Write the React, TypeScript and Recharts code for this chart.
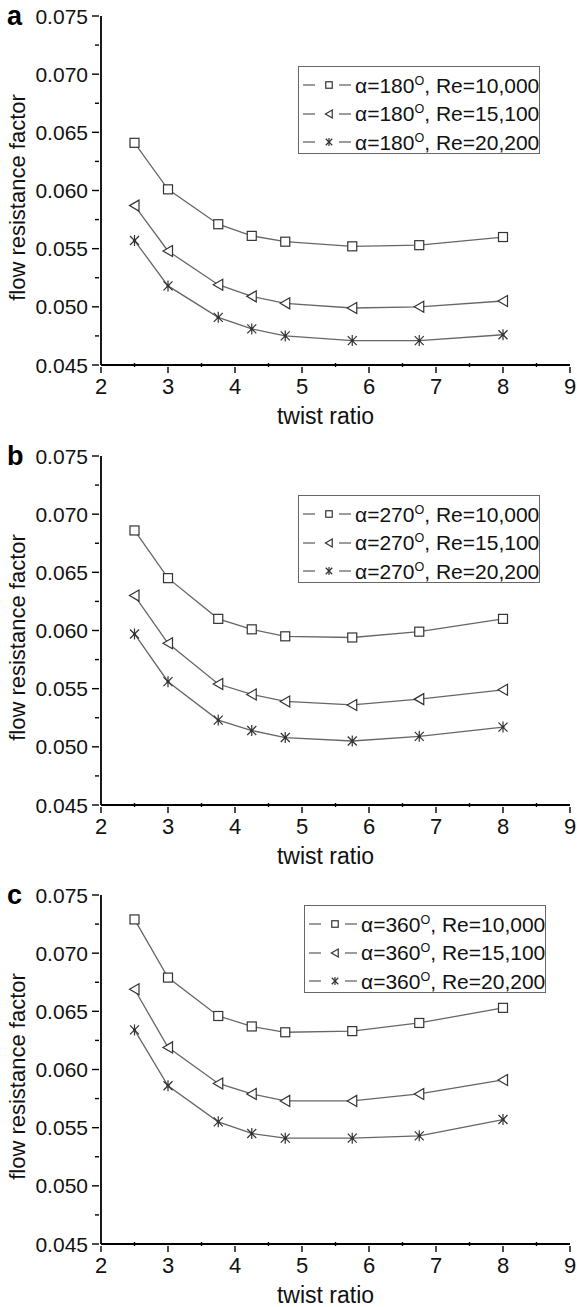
import React from "react";
import { LineChart, Line, XAxis, YAxis, Legend } from "recharts";

const twistRatio = [2.5, 3, 3.75, 4.25, 4.75, 5.75, 6.75, 8];

const f180Re10000 = [0.0641, 0.0601, 0.0571, 0.0561, 0.0556, 0.0552, 0.0553, 0.056];
const f180Re15100 = [0.0587, 0.0548, 0.0519, 0.0509, 0.0503, 0.0499, 0.05, 0.0505];
const f180Re20200 = [0.0557, 0.0518, 0.0491, 0.0481, 0.0475, 0.0471, 0.0471, 0.0476];

const f270Re10000 = [0.0686, 0.0645, 0.061, 0.0601, 0.0595, 0.0594, 0.0599, 0.061];
const f270Re15100 = [0.063, 0.0589, 0.0554, 0.0545, 0.0539, 0.0536, 0.0541, 0.0549];
const f270Re20200 = [0.0597, 0.0556, 0.0523, 0.0514, 0.0508, 0.0505, 0.0509, 0.0517];

const f360Re10000 = [0.0729, 0.0679, 0.0646, 0.0637, 0.0632, 0.0633, 0.064, 0.0653];
const f360Re15100 = [0.0669, 0.0619, 0.0588, 0.0579, 0.0573, 0.0573, 0.0579, 0.0591];
const f360Re20200 = [0.0634, 0.0586, 0.0555, 0.0545, 0.0541, 0.0541, 0.0543, 0.0557];

const reynolds = ["10,000", "15,100", "20,200"];
const xTicks = [2, 2.5, 3, 3.5, 4, 4.5, 5, 5.5, 6, 6.5, 7, 7.5, 8, 8.5, 9];
const yTicks = [0.045, 0.0475, 0.05, 0.0525, 0.055, 0.0575, 0.06, 0.0625, 0.065, 0.0675, 0.07, 0.0725, 0.075];
const yMajor = ["0.045", "0.050", "0.055", "0.060", "0.065", "0.070", "0.075"];

const FONT = "'Liberation Sans', Arial, sans-serif";
const MARK = "#333";
const LINE = "#666";

type Kind = "square" | "triangle" | "star";
const kinds: Kind[] = ["square", "triangle", "star"];

function Marker({ kind, cx, cy, s = 1 }: { kind: Kind; cx: number; cy: number; s?: number }) {
  if (kind === "square") {
    return <rect x={cx - 4.5 * s} y={cy - 4.5 * s} width={9 * s} height={9 * s} fill="#fff" stroke={MARK} strokeWidth={1.2} />;
  }
  if (kind === "triangle") {
    const pts = `${cx - 5 * s},${cy} ${cx + 4.5 * s},${cy - 5.5 * s} ${cx + 4.5 * s},${cy + 5.5 * s}`;
    return <polygon points={pts} fill="#fff" stroke={MARK} strokeWidth={1.2} />;
  }
  const r = 5.5 * s;
  const d = 4.5 * s;
  return (
    <g stroke={MARK} strokeWidth={1.2}>
      <line x1={cx} y1={cy - r} x2={cx} y2={cy + r} />
      <line x1={cx - d} y1={cy - d} x2={cx + d} y2={cy + d} />
      <line x1={cx - d} y1={cy + d} x2={cx + d} y2={cy - d} />
      <circle cx={cx} cy={cy} r={1.6 * s} fill={MARK} stroke="none" />
    </g>
  );
}

const makeDot = (kind: Kind) => (props: any) => (
  <g key={`${kind}-${props.index}`}>
    <Marker kind={kind} cx={props.cx} cy={props.cy} />
  </g>
);

const YTick = (props: any) => {
  const { x, y, payload } = props;
  const v = payload.value as number;
  const label = yMajor.find((m) => Math.abs(+m - v) < 1e-7);
  return (
    <g>
      <line x1={x} y1={y} x2={x - (label ? 7 : 4)} y2={y} stroke="#000" strokeWidth={1.4} />
      {label && (
        <text x={x - 11} y={y} textAnchor="end" dominantBaseline="central" fontSize={21} fontFamily={FONT} fill="#111">
          {label}
        </text>
      )}
    </g>
  );
};

const XTick = (props: any) => {
  const { x, y, payload } = props;
  const v = payload.value as number;
  const major = Number.isInteger(v);
  return (
    <g>
      <line x1={x} y1={y} x2={x} y2={major ? y + 6 : y - 4} stroke="#000" strokeWidth={1.4} />
      {major && (
        <text x={x} y={y + 19} textAnchor="middle" dominantBaseline="central" fontSize={22} fontFamily={FONT} fill="#111">
          {v}
        </text>
      )}
    </g>
  );
};

function LegendBox({ angle }: { angle: string }) {
  return (
    <div
      style={{
        width: 242,
        height: 88,
        border: "1.3px solid #666",
        background: "#fff",
        paddingTop: 4,
        boxSizing: "border-box",
        fontFamily: FONT,
      }}
    >
      {kinds.map((k, i) => (
        <div key={k} style={{ display: "flex", alignItems: "center", height: 28.5 }}>
          <svg width={56} height={20} style={{ flex: "none" }}>
            <line x1={4} y1={10} x2={16} y2={10} stroke={LINE} strokeWidth={1.3} />
            <Marker kind={k} cx={30} cy={10} s={0.72} />
            <line x1={40} y1={10} x2={52} y2={10} stroke={LINE} strokeWidth={1.3} />
          </svg>
          <span style={{ fontSize: 21, color: "#111", whiteSpace: "nowrap", lineHeight: 1 }}>
            α={angle}
            <sup style={{ fontSize: "0.6em", verticalAlign: "0.6em" }}>O</sup>, Re={reynolds[i]}
          </span>
        </div>
      ))}
    </div>
  );
}

const panels = [
  { letter: "a", angle: "180", series: [f180Re10000, f180Re15100, f180Re20200], height: 440, legendTop: 66, legendLeft: 298 },
  { letter: "b", angle: "270", series: [f270Re10000, f270Re15100, f270Re20200], height: 439, legendTop: 495, legendLeft: 298 },
  { letter: "c", angle: "360", series: [f360Re10000, f360Re15100, f360Re20200], height: 428, legendTop: 905, legendLeft: 304 },
];

const PLOT_TOP = 16;
const PLOT_H = 349;

function Panel({ p, offsetTop }: { p: (typeof panels)[number]; offsetTop: number }) {
  const data = twistRatio.map((t, i) => ({ t, s0: p.series[0][i], s1: p.series[1][i], s2: p.series[2][i] }));
  return (
    <div style={{ position: "relative", width: 577, height: p.height }}>
      <div
        style={{
          position: "absolute",
          left: 7,
          top: 1,
          fontFamily: FONT,
          fontWeight: "bold",
          fontSize: 27,
          lineHeight: "30px",
          color: "#000",
          zIndex: 2,
        }}
      >
        {p.letter}
      </div>
      <LineChart width={577} height={p.height} data={data} margin={{ top: PLOT_TOP, right: 7, bottom: 0, left: 0 }}>
        <XAxis
          dataKey="t"
          type="number"
          domain={[2, 9]}
          ticks={xTicks}
          interval={0}
          tick={<XTick />}
          tickLine={false}
          tickSize={0}
          height={p.height - PLOT_TOP - PLOT_H}
          axisLine={{ stroke: "#000", strokeWidth: 1.8 }}
          label={{
            content: (lp: any) => (
              <text
                x={lp.viewBox.x + lp.viewBox.width / 2 - 10}
                y={lp.viewBox.y + 51}
                textAnchor="middle"
                dominantBaseline="central"
                fontSize={23}
                fontFamily={FONT}
                fill="#111"
              >
                twist ratio
              </text>
            ),
          }}
        />
        <XAxis xAxisId="top" orientation="top" type="number" domain={[2, 9]} height={0} tick={false} tickLine={false} axisLine={{ stroke: "#000", strokeWidth: 1.8 }} />
        <YAxis
          type="number"
          domain={[0.045, 0.075]}
          ticks={yTicks}
          interval={0}
          tick={<YTick />}
          tickLine={false}
          tickSize={0}
          width={101}
          axisLine={{ stroke: "#000", strokeWidth: 1.8 }}
          label={{
            content: (lp: any) => {
              const cy = lp.viewBox.y + lp.viewBox.height / 2 + 7;
              return (
                <text
                  x={17}
                  y={cy}
                  transform={`rotate(-90 17 ${cy})`}
                  textAnchor="middle"
                  dominantBaseline="central"
                  fontSize={22}
                  fontFamily={FONT}
                  fill="#111"
                >
                  flow resistance factor
                </text>
              );
            },
          }}
        />
        <YAxis yAxisId="right" orientation="right" type="number" domain={[0.045, 0.075]} width={0} tick={false} tickLine={false} axisLine={{ stroke: "#000", strokeWidth: 1.8 }} />
        <Legend
          layout="vertical"
          align="center"
          verticalAlign="middle"
          content={() => <LegendBox angle={p.angle} />}
          wrapperStyle={{ position: "absolute", left: p.legendLeft, top: p.legendTop - offsetTop, width: 242, height: 88 }}
        />
        {kinds.map((k, i) => (
          <Line
            key={k}
            dataKey={`s${i}`}
            type="linear"
            stroke={LINE}
            strokeWidth={1.3}
            dot={makeDot(k)}
            activeDot={false}
            isAnimationActive={false}
          />
        ))}
      </LineChart>
    </div>
  );
}

export default function App() {
  let top = 0;
  const tops = panels.map((p) => {
    const t = top;
    top += p.height;
    return t;
  });
  return (
    <div style={{ position: "absolute", left: 0, top: 0, width: 577, height: 1307, background: "#fff" }}>
      {panels.map((p, i) => (
        <Panel key={p.letter} p={p} offsetTop={tops[i]} />
      ))}
    </div>
  );
}
